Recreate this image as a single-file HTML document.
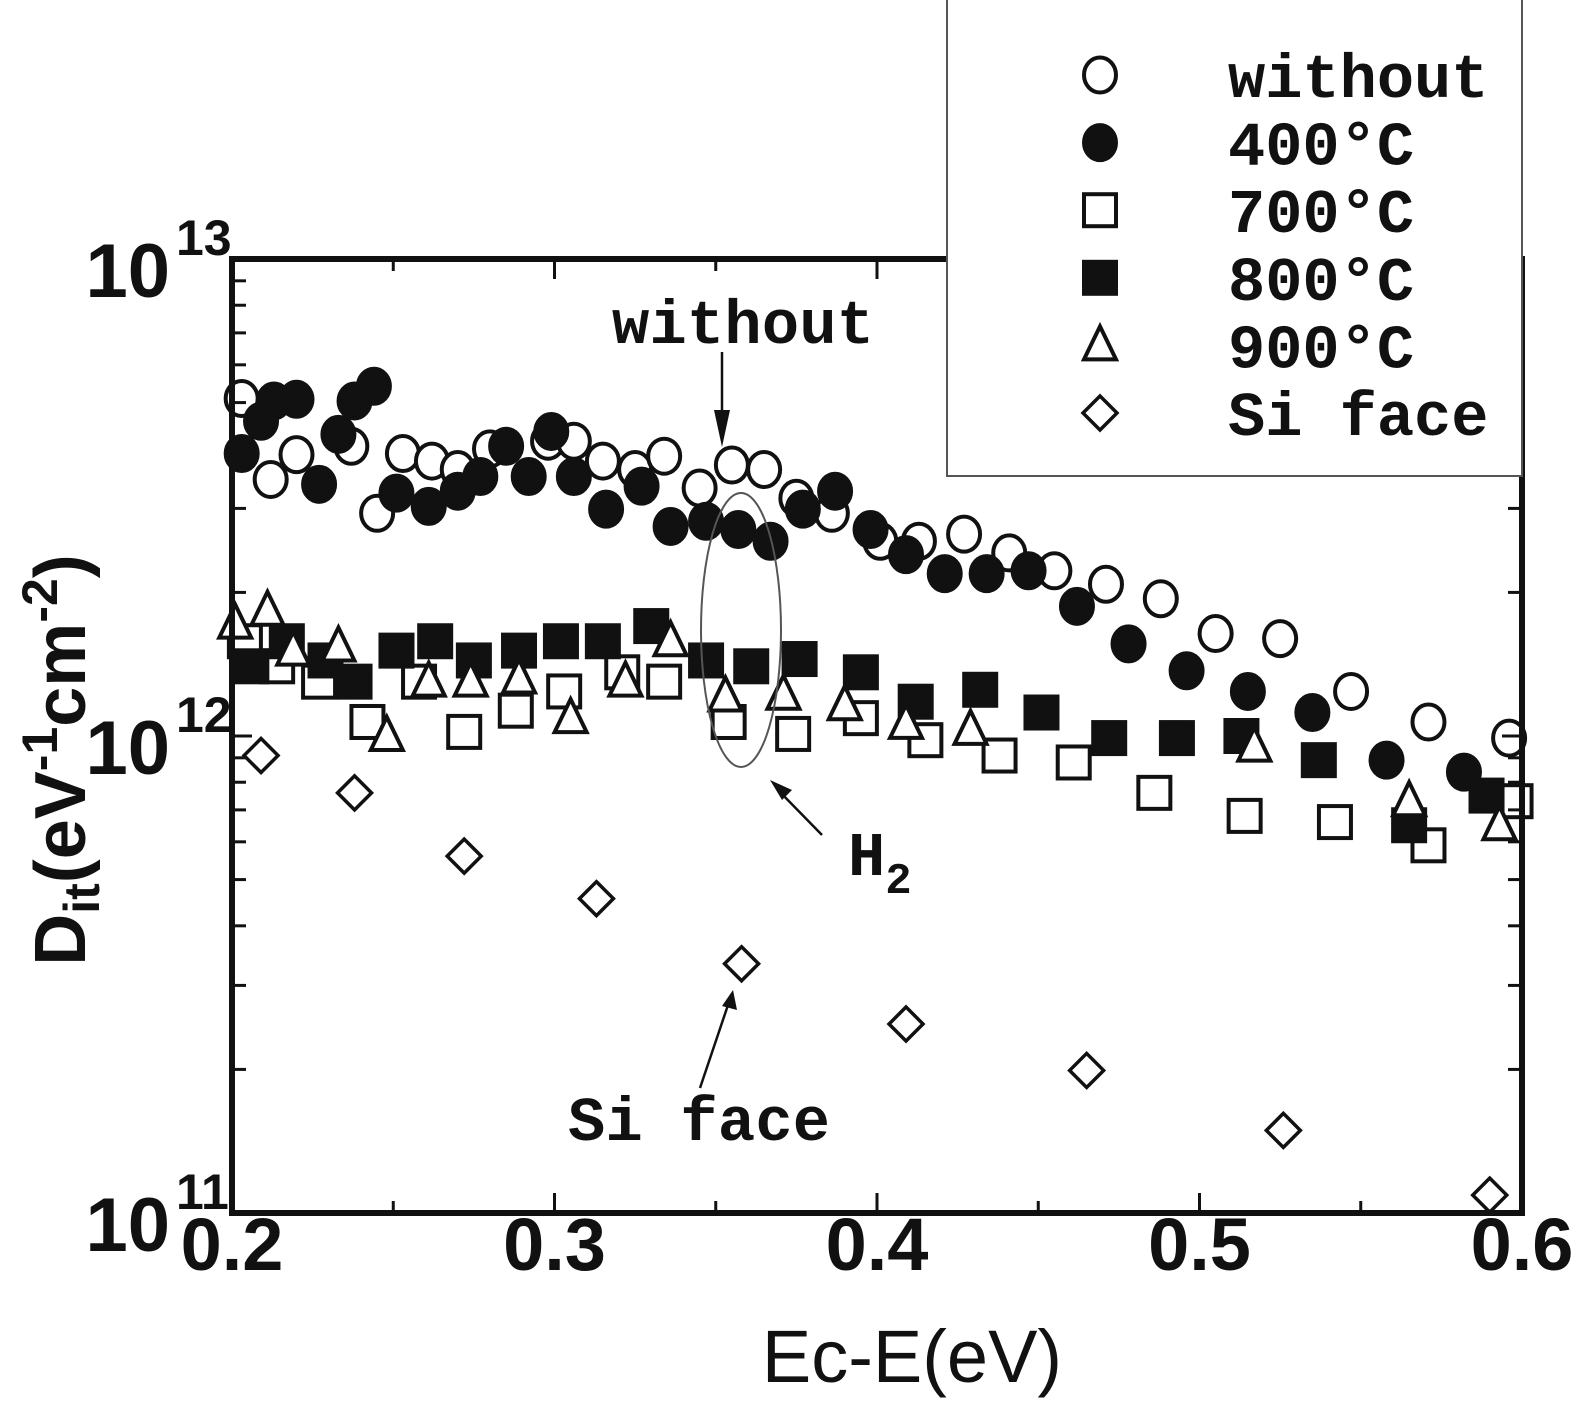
<!DOCTYPE html>
<html><head><meta charset="utf-8"><style>
html,body{margin:0;padding:0;background:#fff;}
svg{display:block;}
text{fill:#111;}
</style></head><body>
<svg id="chart" width="1575" height="1404" viewBox="0 0 1575 1404" xmlns="http://www.w3.org/2000/svg">
<g id="marks"></g>
<g id="axes"></g>
<g id="legend"></g>
</svg>
<script>
// ---- data ----
const withoutX=[.203,.212,.220,.237,.245,.253,.262,.270,.280,.298,.306,.315,.325,.334,.345,.355,.365,.375,.386,.401,.413,.427,.441,.455,.471,.488,.505,.525,.547,.571,.596];
const withoutY=[5.10,3.45,3.89,4.05,2.93,3.91,3.77,3.62,4.00,4.15,4.15,3.77,3.62,3.86,3.31,3.70,3.62,3.15,2.93,2.56,2.56,2.65,2.42,2.22,2.08,1.94,1.64,1.60,1.24,1.07,0.99];
const c400X=[.203,.209,.213,.220,.227,.233,.238,.244,.251,.261,.270,.277,.285,.292,.299,.306,.316,.327,.336,.347,.357,.367,.377,.387,.398,.409,.421,.434,.447,.462,.478,.496,.515,.535,.558,.582];
const c400Y=[3.91,4.57,5.04,5.08,3.37,4.29,5.04,5.41,3.23,3.03,3.26,3.50,4.05,3.50,4.35,3.50,2.99,3.34,2.75,2.82,2.71,2.56,2.99,3.26,2.71,2.40,2.19,2.19,2.22,1.87,1.56,1.37,1.24,1.12,0.89,0.84];
const c700X=[.204,.214,.227,.242,.258,.272,.288,.303,.321,.334,.354,.374,.395,.415,.438,.461,.486,.514,.542,.571,.598];
const c700Y=[1.58,1.40,1.30,1.07,1.30,1.02,1.13,1.24,1.36,1.30,1.07,1.01,1.09,0.98,0.91,0.88,0.76,0.68,0.66,0.59,0.73];
const c800X=[.206,.217,.229,.238,.251,.263,.275,.289,.302,.315,.330,.347,.361,.376,.395,.412,.432,.451,.472,.493,.513,.537,.565,.589];
const c800Y=[1.40,1.58,1.44,1.30,1.51,1.58,1.44,1.51,1.58,1.58,1.70,1.44,1.40,1.45,1.36,1.18,1.25,1.12,0.99,0.99,1.00,0.89,0.65,0.75];
const c900X=[.201,.211,.219,.233,.248,.261,.274,.289,.305,.322,.336,.353,.371,.390,.409,.429,.517,.565,.593];
const c900Y=[1.72,1.83,1.51,1.54,1.00,1.30,1.30,1.32,1.09,1.30,1.58,1.21,1.22,1.16,1.06,1.03,0.95,0.73,0.65];
const siX=[.209,.238,.272,.313,.358,.409,.465,.526,.590];
const siY=[0.91,0.76,0.56,0.456,0.333,0.249,0.199,0.149,0.109];
const xTicks=[0.2,0.3,0.4,0.5,0.6];
const xTickLabels=["0.2","0.3","0.4","0.5","0.6"];
const yDecades=[11,12,13];
const yDecadeLabels=["11","12","13"];
const legendLabels=["without","400\u00B0C","700\u00B0C","800\u00B0C","900\u00B0C","Si face"];

// ---- axes ----
const L=232,R=1522,T=259,B=1213;
function sx(v){return L+(v-0.2)/0.4*(R-L);}
function sy(v1e12){return B-(Math.log10(v1e12*1e12)-11)/2*(B-T);}
const NS="http://www.w3.org/2000/svg";
function mk(tag,attrs,parent){const e=document.createElementNS(NS,tag);for(const k in attrs)e.setAttribute(k,attrs[k]);parent.appendChild(e);return e;}
const marks=document.getElementById('marks'),axes=document.getElementById('axes'),leg=document.getElementById('legend');

function marker(type,x,y,parent){
  let e;
  if(type==='oc'||type==='fc'){e=mk('ellipse',{cx:x,cy:y,rx:16,ry:17.5,fill:type==='fc'?'#111':'#fff',stroke:'#111','stroke-width':4},parent);}
  else if(type==='os'||type==='fs'){e=mk('rect',{x:x-16,y:y-16,width:32,height:32,fill:type==='fs'?'#111':'#fff',stroke:'#111','stroke-width':4},parent);}
  else if(type==='tr'){e=mk('polygon',{points:`${x},${y-19} ${x+16},${y+14} ${x-16},${y+14}`,fill:'#fff',stroke:'#111','stroke-width':4},parent);}
  else {e=mk('polygon',{points:`${x},${y-17} ${x+17},${y} ${x},${y+17} ${x-17},${y}`,fill:'#fff',stroke:'#111','stroke-width':3.5},parent);}
  return e;
}
const series=[['oc',withoutX,withoutY,'without'],['fc',c400X,c400Y,'400c'],['os',c700X,c700Y,'700c'],['fs',c800X,c800Y,'800c'],['tr',c900X,c900Y,'900c'],['di',siX,siY,'si-face']];
series.forEach(s=>{
  const g=mk('g',{},marks);
  
  
  s[1].forEach((xv,i)=>{
    const m=marker(s[0],sx(xv),sy(s[2][i]),g);
    
    
  });
});

// frame
const fr=mk('rect',{x:L,y:T,width:R-L,height:B-T,fill:'none',stroke:'#111','stroke-width':6},axes);


// y ticks
yDecades.forEach((d,i)=>{
  for(let m=1;m<=9;m++){
    if(d===13&&m>1)break;
    const yy=B-((d-11)+Math.log10(m))/2*(B-T);
    const len=m===1?20:14;
    mk('line',{x1:L,y1:yy,x2:L+len,y2:yy,stroke:'#111','stroke-width':3},axes);
    mk('line',{x1:R,y1:yy,x2:R-len,y2:yy,stroke:'#111','stroke-width':3},axes);
  }
  const yy=B-(d-11)/2*(B-T);
  const t=mk('text',{x:170,y:yy+38,'font-family':'Liberation Sans, sans-serif','font-size':76,'font-weight':'bold','text-anchor':'end'},axes);
  t.textContent='10';
  
  
  const s=mk('text',{x:176,y:yy-4,'font-family':'Liberation Sans, sans-serif','font-size':50,'font-weight':'bold'},axes);
  s.textContent=yDecadeLabels[i];
  
  
});
// x ticks
xTicks.forEach((v,i)=>{
  const xx=sx(v);
  mk('line',{x1:xx,y1:B,x2:xx,y2:B-20,stroke:'#111','stroke-width':3},axes);
  mk('line',{x1:xx,y1:T,x2:xx,y2:T+20,stroke:'#111','stroke-width':3},axes);
  if(i<xTicks.length-1){const xm=sx(v+0.05);
    mk('line',{x1:xm,y1:B,x2:xm,y2:B-12,stroke:'#111','stroke-width':3},axes);
    mk('line',{x1:xm,y1:T,x2:xm,y2:T+12,stroke:'#111','stroke-width':3},axes);}
  const t=mk('text',{x:xx,y:1270,'font-family':'Liberation Sans, sans-serif','font-size':74,'font-weight':'bold','text-anchor':'middle'},axes);
  t.textContent=xTickLabels[i];
  
  
});

// legend
const lb=mk('rect',{x:947,y:-2,width:575,height:478,fill:'#fff',stroke:'#555','stroke-width':2},leg);


['oc','fc','os','fs','tr','di'].forEach((t,i)=>{
  const yy=75+i*67.6;
  const g=mk('g',{},leg);
  
  
  marker(t,1100,yy,g);
  const tx=mk('text',{x:1228,y:yy+22,'font-family':'Liberation Mono, monospace','font-size':62,'font-weight':'bold'},g);
  tx.textContent=legendLabels[i];
});
</script>
<svg style="position:absolute;left:0;top:0" width="1575" height="1404">
<text x="612" y="343" font-family="Liberation Mono, monospace" font-size="62" font-weight="bold" textLength="262">without</text>
<line x1="722" y1="352" x2="722" y2="430" stroke="#111" stroke-width="2.5"/>
<polygon points="714,410 730,410 722,447" fill="#111"/>
<ellipse cx="741" cy="630" rx="40" ry="137" fill="none" stroke="#555" stroke-width="2"/>
<line x1="822" y1="835" x2="778" y2="790" stroke="#111" stroke-width="2.5"/>
<polygon points="770,780 792,790 782,800" fill="#111"/>
<text x="848" y="875" font-family="Liberation Mono, monospace" font-size="62" font-weight="bold">H<tspan font-size="44" dy="18">2</tspan></text>
<line x1="700" y1="1088" x2="728" y2="1005" stroke="#111" stroke-width="2.5"/>
<polygon points="733,990 737,1010 722,1006" fill="#111"/>
<text x="568" y="1140" font-family="Liberation Mono, monospace" font-size="62" font-weight="bold" textLength="262">Si face</text>
<text x="912" y="1382" font-family="Liberation Sans, sans-serif" font-size="74" text-anchor="middle">Ec-E(eV)</text>
<text transform="translate(85,760) rotate(-90)" font-family="Liberation Sans, sans-serif" font-size="72" font-weight="bold" text-anchor="middle">D<tspan font-size="50" dy="14">it</tspan><tspan dy="-14">(eV</tspan><tspan font-size="50" dy="-28">-1</tspan><tspan dy="28">cm</tspan><tspan font-size="50" dy="-28">-2</tspan><tspan dy="28">)</tspan></text>
</svg>
</body></html>
